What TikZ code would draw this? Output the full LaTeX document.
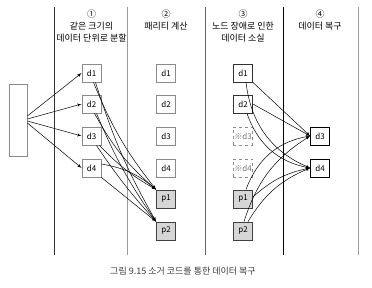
\documentclass[tikz,border=0pt]{standalone}
\usepackage{fontspec}
\setmainfont{Noto Sans CJK KR}
\usepackage{tikz}
\usetikzlibrary{arrows}

\definecolor{linegray}{HTML}{9A9A9A}
\definecolor{boxgray}{HTML}{8A8A8A}
\definecolor{parityfill}{HTML}{D6D6D6}
\definecolor{captiongray}{HTML}{3C3C3C}

\begin{document}
\begin{tikzpicture}[x=1pt,y=1pt]
    \tikzset{block/.style = {shape=rectangle,draw=boxgray,line width=0.8pt,minimum width=19pt,minimum height=18pt,inner sep=1pt,font=\fontsize{8}{9}\selectfont}}
    \tikzset{parity/.style = {block,fill=parityfill,draw=black!75}}
    \tikzset{lost/.style = {block,dashed,draw=boxgray,text=black!55}}
    \tikzset{head/.style = {align=center,anchor=north,font=\fontsize{9}{12}\selectfont}}
    \tikzset{edge/.style = {->,> = latex',line width=0.5pt}}

    \useasboundingbox (0,0) rectangle (372,287);

    % column rules
    \draw[black!80] (54,32) -- (54,280);
    \draw[linegray] (127,32) -- (127,280);
    \draw[black!60] (205,32) -- (205,280);
    \draw[black] (283,32) -- (283,280);
    \draw[linegray] (358,32) -- (358,280);

    % headers
    \node[head] (h1) at (91.5,281) {①\\같은 크기의\\데이터 단위로 분할};
    \node[head] (h2) at (166,281) {②\\패리티 계산};
    \node[head] (h3) at (243,281) {③\\노드 장애로 인한\\데이터 소실};
    \node[head] (h4) at (320,281) {④\\데이터 복구};

    % vertices
    \node[draw=boxgray, line width=0.8pt, minimum width=18pt, minimum height=72pt] (src) at (18,167) {};

    \node[block] (s1) at (91.5,214) {d1};
    \node[block] (s2) at (91.5,183) {d2};
    \node[block] (s3) at (91.5,151) {d3};
    \node[block] (s4) at (91.5,119) {d4};

    \node[block] (c1) at (166,214) {d1};
    \node[block] (c2) at (166,183) {d2};
    \node[block] (c3) at (166,151) {d3};
    \node[block] (c4) at (166,119) {d4};
    \node[parity] (cp1) at (166,88) {p1};
    \node[parity] (cp2) at (166,56) {p2};

    \node[block,draw=black!80] (l1) at (243,214) {d1};
    \node[block,draw=black!80] (l2) at (243,183) {d2};
    \node[lost] (l3) at (243,151) {※d3};
    \node[lost] (l4) at (243,119) {※d4};
    \node[parity] (lp1) at (243,88) {p1};
    \node[parity] (lp2) at (243,56) {p2};

    \node[block,draw=black] (r3) at (320,151) {d3};
    \node[block,draw=black] (r4) at (320,119) {d4};

    \node[font=\fontsize{9}{11}\selectfont, text=captiongray] (cap) at (183,16) {그림 9.15 소거 코드를 통한 데이터 복구};

    %edges
    \draw[edge] ([yshift=4pt]src.east) -- (s1.west);
    \draw[edge] ([yshift=1pt]src.east) -- (s2.west);
    \draw[edge] ([yshift=-1pt]src.east) -- (s3.west);
    \draw[edge] ([yshift=-3pt]src.east) -- (s4.west);

    \draw[edge] ([xshift=2pt]s1.south) to[bend right=8] (cp1.north west);
    \draw[edge] ([xshift=4pt]s1.south) to[bend right=6] (cp2.north west);
    \draw[edge] ([xshift=3pt]s2.south) to[bend right=10] (cp1.north west);
    \draw[edge] ([xshift=5pt]s2.south) to[bend right=6] (cp2.north west);
    \draw[edge] ([xshift=-2pt]s3.south east) to[bend right=8] (cp1.north west);
    \draw[edge] ([xshift=-5pt]s3.south east) to[bend right=4] (cp2.north west);
    \draw[edge] ([yshift=4pt]s4.east) to[bend left=15] (cp1.north west);
    \draw[edge] (s4.south east) -- (cp2.north west);

    \draw[edge] (l1.south east) -- (r3.west);
    \draw[edge] ([xshift=3pt]l1.south) to[bend right=30] (r4.west);
    \draw[edge] (l2.east) -- (r3.west);
    \draw[edge] ([xshift=4pt]l2.south) to[bend right=30] (r4.west);
    \draw[edge] ([xshift=3pt]lp1.north) to[bend left=30] (r3.west);
    \draw[edge] ([yshift=2pt]lp1.east) to[bend left=15] (r4.west);
    \draw[edge] ([xshift=1pt]lp2.north) to[bend left=20] (r3.west);
    \draw[edge] ([xshift=5pt]lp2.north) to[bend left=18] (r4.west);
\end{tikzpicture}
\end{document}
